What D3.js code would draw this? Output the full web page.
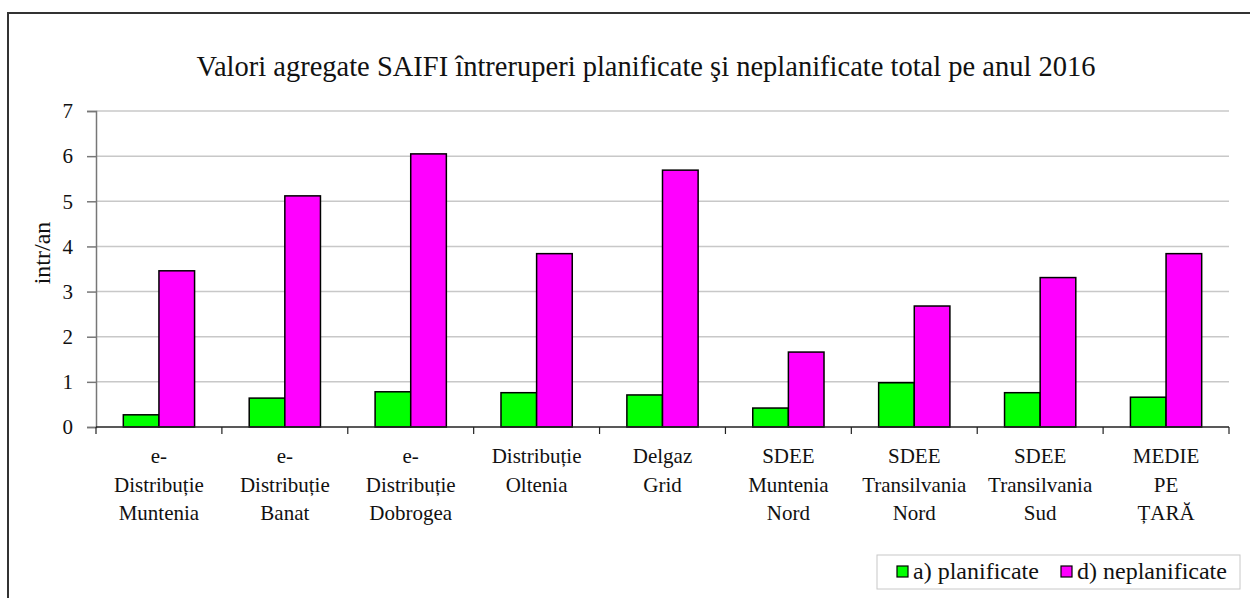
<!DOCTYPE html>
<html>
<head>
<meta charset="utf-8">
<script src="https://cdn.jsdelivr.net/npm/d3@7"></script>
<style>
  body { margin: 0; background: #fff; }
  text { font-family: "Liberation Serif", "Times New Roman", serif; fill: #111; }
</style>
</head>
<body>
<svg id="chart" width="1250" height="598"></svg>
<script>
// data
const categories = [
  ["e-", "Distribuție", "Muntenia"],
  ["e-", "Distribuție", "Banat"],
  ["e-", "Distribuție", "Dobrogea"],
  ["Distribuție", "Oltenia"],
  ["Delgaz", "Grid"],
  ["SDEE", "Muntenia", "Nord"],
  ["SDEE", "Transilvania", "Nord"],
  ["SDEE", "Transilvania", "Sud"],
  ["MEDIE", "PE", "ȚARĂ"]
];
const planificate = [0.27, 0.64, 0.78, 0.76, 0.71, 0.42, 0.98, 0.76, 0.66];
const neplanificate = [3.46, 5.12, 6.05, 3.84, 5.69, 1.66, 2.68, 3.31, 3.84];
const seriesNames = ["a) planificate", "d) neplanificate"];
const seriesColors = ["#00ff00", "#ff00ff"];
const yTicks = [0, 1, 2, 3, 4, 5, 6, 7];

const svg = d3.select("#chart");

// outer frame (right and bottom edges fall outside the picture)
svg.append("rect")
  .attr("x", 8).attr("y", 13)
  .attr("width", 1260).attr("height", 600)
  .attr("fill", "none").attr("stroke", "#333").attr("stroke-width", 2);

const plotLeft = 96, plotRight = 1229, plotTop = 111, plotBottom = 427;

const x = d3.scaleBand()
  .domain(d3.range(categories.length))
  .range([plotLeft, plotRight]);

const y = d3.scaleLinear().domain([0, 7]).range([plotBottom, plotTop]);

// gridlines
svg.append("g")
  .selectAll("line")
  .data(yTicks.filter(d => d > 0))
  .join("line")
  .attr("x1", plotLeft).attr("x2", plotRight)
  .attr("y1", d => y(d)).attr("y2", d => y(d))
  .attr("stroke", "#c8c8c8").attr("stroke-width", 1.5);

// bars
const barW = x.bandwidth() * 0.283;
const series = [planificate, neplanificate];
series.forEach((vals, s) => {
  svg.append("g")
    .selectAll("rect")
    .data(vals)
    .join("rect")
    .attr("x", (d, i) => x(i) + x.bandwidth() / 2 - barW + s * barW)
    .attr("y", d => y(d))
    .attr("width", barW)
    .attr("height", d => y(0) - y(d))
    .attr("fill", seriesColors[s])
    .attr("stroke", "#000")
    .attr("stroke-width", 1.5);
});

// y axis
const yAxis = svg.append("g")
  .attr("transform", `translate(${plotLeft},0)`)
  .call(d3.axisLeft(y).tickValues(yTicks).tickSize(9).tickPadding(14).tickFormat(d3.format("d")));
yAxis.select(".domain").attr("stroke", "#777").attr("stroke-width", 1.5);
yAxis.selectAll(".tick line").attr("stroke", "#777").attr("stroke-width", 1.5);
yAxis.selectAll(".tick text")
  .style("font-family", "'Liberation Serif', serif")
  .style("font-size", "21px").attr("fill", "#111");

// x axis line + boundary ticks
svg.append("line")
  .attr("x1", plotLeft).attr("x2", plotRight)
  .attr("y1", plotBottom).attr("y2", plotBottom)
  .attr("stroke", "#222").attr("stroke-width", 1.5);
svg.append("g")
  .selectAll("line")
  .data(d3.range(categories.length + 1))
  .join("line")
  .attr("x1", i => plotLeft + i * x.step()).attr("x2", i => plotLeft + i * x.step())
  .attr("y1", plotBottom).attr("y2", plotBottom + 7)
  .attr("stroke", "#222").attr("stroke-width", 1.2);

// category labels
const labels = svg.append("g")
  .selectAll("text")
  .data(categories)
  .join("text")
  .attr("text-anchor", "middle")
  .style("font-size", "21px");
labels.each(function(lines, i) {
  d3.select(this).selectAll("tspan")
    .data(lines)
    .join("tspan")
    .attr("x", x(i) + x.bandwidth() / 2)
    .attr("y", (d, j) => 463 + j * 28.5)
    .text(d => d);
});

// y title
svg.append("text")
  .attr("transform", "translate(50,253) rotate(-90)")
  .attr("text-anchor", "middle")
  .style("font-size", "24px")
  .text("intr/an");

// chart title
svg.append("text")
  .attr("x", 646).attr("y", 76)
  .attr("text-anchor", "middle")
  .style("font-size", "28.5px")
  .text("Valori agregate SAIFI întreruperi planificate şi neplanificate total pe anul 2016");

// legend
const legend = svg.append("g");
legend.append("rect")
  .attr("x", 877).attr("y", 555).attr("width", 363).attr("height", 34)
  .attr("fill", "#fff").attr("stroke", "#c8c8c8").attr("stroke-width", 1);
const legendX = [897, 1061];
seriesNames.forEach((name, s) => {
  legend.append("rect")
    .attr("x", legendX[s]).attr("y", 566).attr("width", 11).attr("height", 11)
    .attr("fill", seriesColors[s]).attr("stroke", "#000").attr("stroke-width", 1.2);
  legend.append("text")
    .attr("x", legendX[s] + 16).attr("y", 579)
    .style("font-size", "24px")
    .text(name);
});
</script>
</body>
</html>
